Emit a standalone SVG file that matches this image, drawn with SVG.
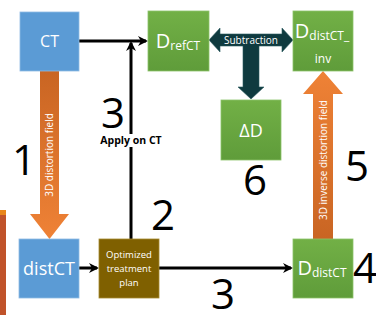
<svg xmlns="http://www.w3.org/2000/svg" width="376" height="321" viewBox="0 0 376 321">
<defs>
<linearGradient id="gGreen" x1="0" y1="0" x2="0" y2="1"><stop offset="0" stop-color="#72b046"/><stop offset="1" stop-color="#5f9c3a"/></linearGradient>
<linearGradient id="gOrangeV" x1="0" y1="0" x2="0" y2="1"><stop offset="0" stop-color="#c96523"/><stop offset="1" stop-color="#ef8236"/></linearGradient>
<linearGradient id="gOrangeU" x1="0" y1="1" x2="0" y2="0"><stop offset="0" stop-color="#c96523"/><stop offset="1" stop-color="#ef8236"/></linearGradient>
<marker id="ah" markerWidth="10" markerHeight="10" refX="8" refY="5" orient="auto" markerUnits="userSpaceOnUse"><path d="M0,0 L10,5 L0,10 L3,5 Z" fill="#000"/></marker>
</defs>
<style>
.blue{fill:#5b9bd5;stroke:#8fbbe4;stroke-width:0.8}
.green{fill:url(#gGreen);stroke:#8cc36a;stroke-width:0.8}
.brown{fill:#7f6000;stroke:#a58a30;stroke-width:0.8}
.t{font-family:"Open Sans","Liberation Sans",sans-serif;fill:#fff;text-anchor:middle}
.num{font-family:"Open Sans","Liberation Sans",sans-serif;fill:#000;font-size:42px;text-anchor:middle}
.conn{stroke:#000;stroke-width:3;fill:none}
</style>
<rect x="0" y="210" width="6" height="105" fill="#c0532a"/>
<rect x="0" y="210" width="6" height="5" fill="#e8861a"/>
<g id="connectors">
<line class="conn" x1="79" y1="41" x2="146" y2="41" marker-end="url(#ah)"/>
<line class="conn" x1="131" y1="239" x2="131" y2="43" marker-end="url(#ah)"/>
<line class="conn" x1="79" y1="268" x2="97" y2="268" marker-end="url(#ah)"/>
<line class="conn" x1="159" y1="268" x2="291" y2="268" marker-end="url(#ah)"/>
<g id="subtraction">
<path d="M209,40 L220,28 L220,34 L282,34 L282,28 L293,40 L282,52 L282,46 L259,46 L259,87 L264,87 L251,99 L238,87 L243,87 L243,46 L220,46 L220,52 Z" fill="#0f3a3f" stroke="#2a5a60" stroke-width="0.6"/>
<text class="t" x="251" y="44" font-size="10">Subtraction</text>
</g>
<g id="arrow-distortion">
<path d="M40,71 L59,71 L59,214 L69,214 L49.5,239 L30,214 L40,214 Z" fill="url(#gOrangeV)"/>
<text class="t" transform="translate(53,155) rotate(-90)" font-size="10">3D distortion field</text>
</g>
<g id="arrow-inverse">
<path d="M313,239 L333,239 L333,94 L343,94 L323,71 L303,94 L313,94 Z" fill="url(#gOrangeU)"/>
<text class="t" transform="translate(327,160) rotate(-90)" font-size="10">3D inverse distortion field</text>
</g>
<g id="apply-label">
<rect x="97" y="134" width="68" height="13" fill="#fff"/>
<text x="131" y="144" font-family="Open Sans, Liberation Sans, sans-serif" font-size="10.5" font-weight="bold" text-anchor="middle">Apply on CT</text>
</g>
</g>
<g id="CT"><rect class="blue" x="20" y="12" width="59" height="59"/><text class="t" x="49.5" y="47" font-size="16">CT</text></g>
<g id="DrefCT"><rect class="green" x="148" y="11" width="61" height="60"/><text class="t" x="178" y="48" font-size="20">D<tspan font-size="12" dy="2">refCT</tspan></text></g>
<g id="DdistCTinv"><rect class="green" x="293" y="11" width="60" height="60"/><text class="t" x="322" y="38" font-size="20">D<tspan font-size="12" dy="2">distCT_</tspan></text><text class="t" x="323" y="63" font-size="12">inv</text></g>
<g id="DeltaD"><rect class="green" x="221" y="100" width="60" height="60"/><text class="t" x="251" y="137" font-size="18">ΔD</text></g>
<g id="distCT"><rect class="blue" x="19" y="239" width="60" height="59"/><text class="t" x="49" y="275" font-size="18">distCT</text></g>
<g id="plan"><rect class="brown" x="99" y="239" width="60" height="59"/><text class="t" x="129" y="258" font-size="9.5" fill="#f0e8d0">Optimized</text><text class="t" x="129" y="272" font-size="9.5">treatment</text><text class="t" x="129" y="286" font-size="9.5">plan</text></g>
<g id="DdistCT"><rect class="green" x="293" y="239" width="60" height="59"/><text class="t" x="322" y="275" font-size="20">D<tspan font-size="12" dy="2">distCT</tspan></text></g>
<g id="labels">
<text class="num" x="24" y="175">1</text>
<text class="num" x="113" y="128">3</text>
<text class="num" x="163" y="230">2</text>
<text class="num" x="223" y="309">3</text>
<text class="num" x="365" y="283">4</text>
<text class="num" x="357" y="181">5</text>
<text class="num" x="255" y="195">6</text>
</g>
</svg>
